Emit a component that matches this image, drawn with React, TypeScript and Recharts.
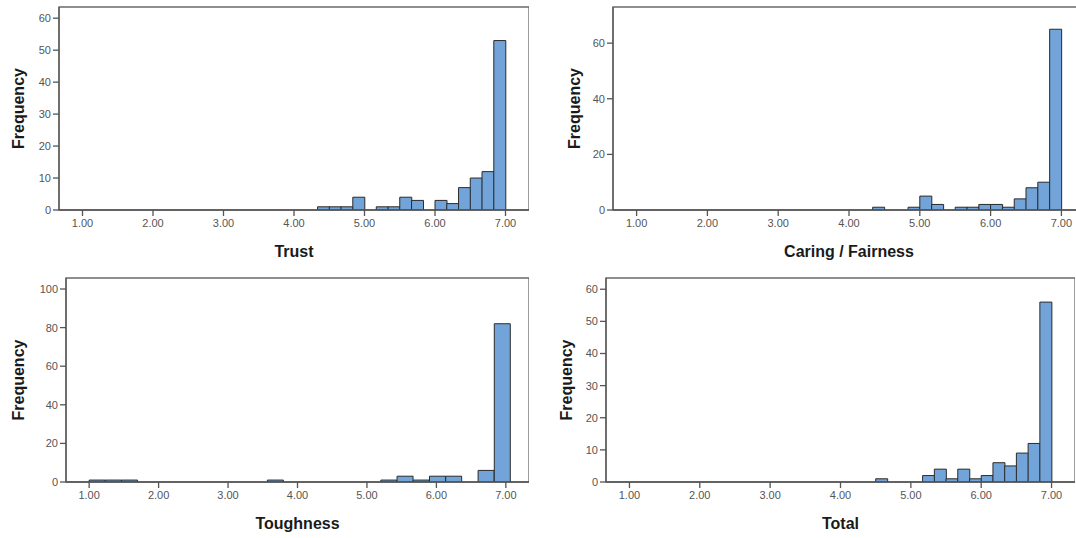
import React from "react";
import { BarChart, Bar, XAxis, YAxis, ReferenceArea } from "recharts";

// shared x axis
const xTicks = [1, 2, 3, 4, 5, 6, 7];
const xDomain: [number, number] = [2 / 3, 22 / 3];

// Trust (bin width 1/6) — bin centres and frequencies
const trustBins = [4.417, 4.583, 4.75, 4.917, 5.083, 5.25, 5.417, 5.583, 5.75, 5.917, 6.083, 6.25, 6.417, 6.583, 6.75, 6.917];
const trustCounts = [1, 1, 1, 4, 0, 1, 1, 4, 3, 0, 3, 2, 7, 10, 12, 53];
const trustYTicks = [0, 10, 20, 30, 40, 50, 60];

// Caring / Fairness (bin width 1/6)
const caringBins = [4.417, 4.583, 4.75, 4.917, 5.083, 5.25, 5.417, 5.583, 5.75, 5.917, 6.083, 6.25, 6.417, 6.583, 6.75, 6.917];
const caringCounts = [1, 0, 0, 1, 5, 2, 0, 1, 1, 2, 2, 1, 4, 8, 10, 65];
const caringYTicks = [0, 20, 40, 60];

// Toughness (bin width 7/30)
const toughBins = [1.117, 1.35, 1.583, 3.683, 5.317, 5.55, 5.783, 6.017, 6.25, 6.483, 6.717, 6.95];
const toughCounts = [1, 1, 1, 1, 1, 3, 1, 3, 3, 0, 6, 82];
const toughYTicks = [0, 20, 40, 60, 80, 100];

// Total (bin width 1/6)
const totalBins = [4.583, 4.75, 4.917, 5.083, 5.25, 5.417, 5.583, 5.75, 5.917, 6.083, 6.25, 6.417, 6.583, 6.75, 6.917];
const totalCounts = [1, 0, 0, 0, 2, 4, 1, 4, 1, 2, 6, 5, 9, 12, 56];
const totalYTicks = [0, 10, 20, 30, 40, 50, 60];

const AXIS = "#555";
const BAR_FILL = "#72a4d9";
const BAR_STROKE = "#2a2a2a";
const TICK = { fill: "#555", fontSize: 11 };

type PanelProps = {
  bins: number[];
  counts: number[];
  yTicks: number[];
  yMax: number;
  title: string;
  left: number;
  top: number;
  yAxisWidth: number;
  plotWidth: number;
  plotHeight: number;
  marginTop: number;
};

function Panel(p: PanelProps) {
  const data = p.bins.map((b, i) => ({ x: b, freq: p.counts[i] }));
  const xAxisHeight = 82;
  const width = p.yAxisWidth + p.plotWidth;
  const height = p.marginTop + p.plotHeight + xAxisHeight;
  return (
    <div style={{ position: "absolute", left: p.left, top: p.top }}>
      <BarChart
        width={width}
        height={height}
        data={data}
        margin={{ top: p.marginTop, right: 0, bottom: 0, left: 0 }}
        barCategoryGap={0}
        barGap={0}
      >
        <XAxis
          dataKey="x"
          type="number"
          domain={xDomain}
          allowDataOverflow
          ticks={xTicks}
          tickFormatter={(v: number) => v.toFixed(2)}
          height={xAxisHeight}
          tickSize={6}
          tickMargin={3}
          tick={TICK}
          axisLine={{ stroke: AXIS, strokeWidth: 1.3 }}
          tickLine={{ stroke: AXIS, strokeWidth: 1.3 }}
          label={{ value: p.title, position: "center", fill: "#1a1a1a", fontSize: 16, fontWeight: "bold" }}
        />
        <YAxis
          type="number"
          domain={[0, p.yMax]}
          allowDataOverflow
          ticks={p.yTicks}
          width={p.yAxisWidth}
          tickSize={6}
          tickMargin={2}
          tick={TICK}
          axisLine={{ stroke: AXIS, strokeWidth: 1.3 }}
          tickLine={{ stroke: AXIS, strokeWidth: 1.3 }}
          label={{ value: "Frequency", angle: -90, position: "center", fill: "#1a1a1a", fontSize: 16, fontWeight: "bold" }}
        />
        <ReferenceArea
          x1={xDomain[0]}
          x2={xDomain[1]}
          y1={0}
          y2={p.yMax}
          fill="none"
          fillOpacity={0}
          stroke="#6a6a6a"
          strokeWidth={1.3}
          ifOverflow="visible"
        />
        <Bar dataKey="freq" fill={BAR_FILL} stroke={BAR_STROKE} strokeWidth={1} isAnimationActive={false} />
      </BarChart>
    </div>
  );
}

export default function App() {
  return (
    <div
      style={{
        position: "absolute",
        left: 0,
        top: 0,
        width: 1076,
        height: 538,
        overflow: "hidden",
        background: "#fff",
        fontFamily: "'Liberation Sans', Arial, sans-serif",
      }}
    >
      <Panel bins={trustBins} counts={trustCounts} yTicks={trustYTicks} yMax={63.5} title="Trust"
        left={-22} top={0} yAxisWidth={81} plotWidth={470} plotHeight={203} marginTop={7} />
      <Panel bins={caringBins} counts={caringCounts} yTicks={caringYTicks} yMax={73} title="Caring / Fairness"
        left={535} top={0} yAxisWidth={78} plotWidth={472} plotHeight={203} marginTop={7} />
      <Panel bins={toughBins} counts={toughCounts} yTicks={toughYTicks} yMax={105.7} title="Toughness"
        left={-30} top={268} yAxisWidth={96} plotWidth={463} plotHeight={204} marginTop={10} />
      <Panel bins={totalBins} counts={totalCounts} yTicks={totalYTicks} yMax={63.5} title="Total"
        left={526} top={268} yAxisWidth={80} plotWidth={469} plotHeight={204} marginTop={10} />
    </div>
  );
}
